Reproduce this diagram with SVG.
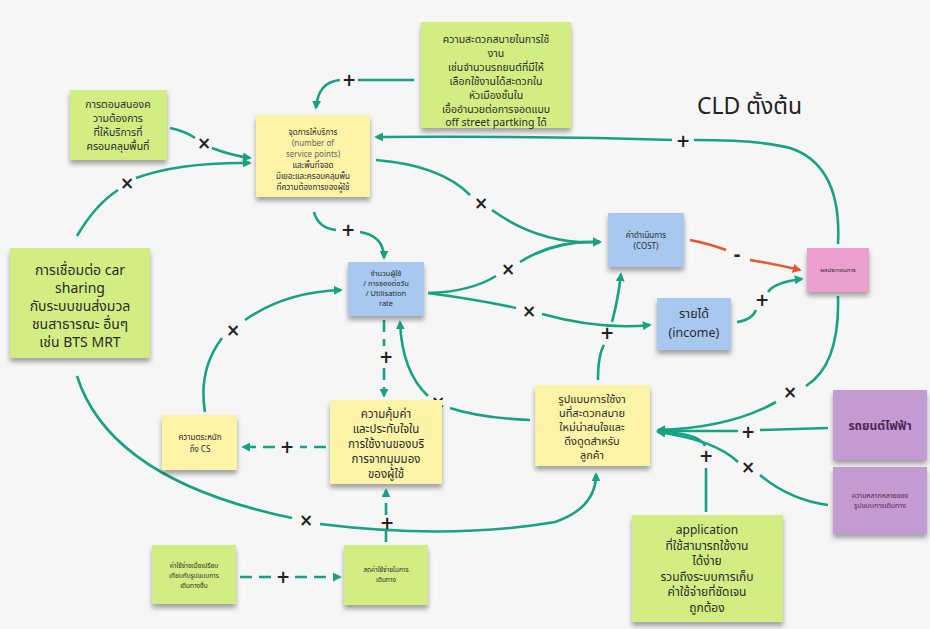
<svg xmlns="http://www.w3.org/2000/svg" width="930" height="629" viewBox="0 0 930 629">
  <defs>
    <marker id="arrow" viewBox="0 0 10 10" refX="8" refY="5" markerWidth="9" markerHeight="9" markerUnits="userSpaceOnUse" orient="auto">
      <path d="M0,0 L10,5 L0,10 z" fill="#17a283"/>
    </marker>
    <marker id="arrowRed" viewBox="0 0 10 10" refX="8" refY="5" markerWidth="9" markerHeight="9" markerUnits="userSpaceOnUse" orient="auto">
      <path d="M0,0 L10,5 L0,10 z" fill="#e8552d"/>
    </marker>
    <filter id="shadow" x="-10%" y="-10%" width="120%" height="130%">
      <feDropShadow dx="0" dy="4" stdDeviation="2.5" flood-color="#000" flood-opacity="0.35"/>
    </filter>
  </defs>
  <style>
    .note { filter: url(#shadow); }
    .green { fill: #d2ee83; }
    .yellow { fill: #fbf4a6; }
    .blue { fill: #a8c8f0; }
    .pink { fill: #ea9fcc; }
    .purple { fill: #c49ad2; }
    text { font-family: "Noto Sans", "Noto Sans Thai", "DejaVu Sans", "Noto Sans CJK SC", sans-serif; fill: #2a2a2a; text-anchor: middle; }
    .link { fill: none; stroke: #17a283; stroke-width: 2.6; marker-end: url(#arrow); }
    .dash { stroke-dasharray: 12 7; }
    .sign { font-family: "DejaVu Sans", sans-serif; font-size: 17px; font-weight: bold; fill: #222; }
  </style>

  <rect width="930" height="629" fill="#f6f6f6"/>

  <text x="697" y="114" style="font-size:23px;fill:#222;text-anchor:start">CLD ตั้งต้น</text>

  <!-- connectors -->
  <g id="connectors">
    <path class="link" d="M414,80 L358,80 M340,80 Q318,82 316,108"/>
    <path class="link" d="M170,128 Q185,131 195,138 M212,148 Q230,155 250,158"/>
    <path class="link" d="M77,236 Q95,205 118,190 M136,178 Q180,162 250,163"/>
    <path class="link" d="M314,212 Q318,228 336,230 M360,232 Q384,236 384,258"/>
    <path class="link" d="M376,160 Q440,165 470,195 M492,210 Q540,245 600,242"/>
    <path class="link" d="M428,293 Q470,292 496,276 M520,262 Q555,240 600,242"/>
    <path class="link" d="M428,293 Q480,300 516,308 M542,314 Q600,330 650,325"/>
    <path d="M690,240 Q710,244 726,250 M750,260 Q775,264 800,270" fill="none" stroke="#e8552d" stroke-width="2.6" marker-end="url(#arrowRed)"/>
    <path class="link" d="M737,322 Q752,320 756,310 M768,292 Q775,282 802,279"/>
    <path class="link" d="M838,244 Q842,165 790,148 Q760,140 694,140 M672,140 Q560,136 376,137"/>
    <path class="link" d="M838,296 Q840,365 806,386 M776,402 Q730,428 658,430"/>
    <path class="link" d="M828,428 L760,430 M738,431 L658,431"/>
    <path class="link" d="M828,505 Q790,500 760,475 M738,462 Q715,440 658,432"/>
    <path class="link" d="M706,512 L706,468 M705,446 Q700,433 658,432"/>
    <path class="link" d="M598,380 Q598,355 604,345 M612,322 Q618,300 621,274"/>
    <path class="link" d="M530,420 Q480,418 450,408 M428,396 Q402,372 400,322"/>
    <path class="link dash" d="M384,320 L384,346 M384,368 L384,396"/>
    <path class="link dash" d="M326,447 L300,447 M275,447 L243,447"/>
    <path class="link" d="M205,412 Q198,370 222,338 M245,320 Q285,292 341,290"/>
    <path class="link dash" d="M386,542 L386,530 M386,515 L386,490"/>
    <path class="link dash" d="M240,577 L272,577 M295,577 L340,577"/>
    <path class="link" d="M77,376 Q110,480 292,518 M320,524 Q450,540 555,522 Q596,508 596,474"/>

    <text class="sign" x="349" y="86">+</text>
    <text class="sign" x="204" y="149">×</text>
    <text class="sign" x="127" y="189">×</text>
    <text class="sign" x="348" y="236">+</text>
    <text class="sign" x="481" y="209">×</text>
    <text class="sign" x="508" y="275">×</text>
    <text class="sign" x="529" y="317">×</text>
    <text class="sign" x="737" y="261">-</text>
    <text class="sign" x="762" y="306">+</text>
    <text class="sign" x="683" y="147">+</text>
    <text class="sign" x="790" y="398">×</text>
    <text class="sign" x="748" y="438">+</text>
    <text class="sign" x="748" y="473">×</text>
    <text class="sign" x="706" y="462">+</text>
    <text class="sign" x="607" y="339">+</text>
    <text class="sign" x="438" y="408">×</text>
    <text class="sign" x="386" y="363">+</text>
    <text class="sign" x="287" y="453">+</text>
    <text class="sign" x="233" y="336">×</text>
    <text class="sign" x="387" y="529">+</text>
    <text class="sign" x="283" y="583">+</text>
    <text class="sign" x="306" y="526">×</text>
  </g>

  <!-- nodes -->
  <g id="comfort">
    <rect class="note green" x="421" y="22" width="150" height="106"/>
    <text style="font-size:10.5px" x="496" y="43">ความสะดวกสบายในการใช้</text>
    <text style="font-size:10.5px" x="496" y="57">งาน</text>
    <text style="font-size:10.5px" x="496" y="71">เช่นจำนวนรถยนต์ที่มีให้</text>
    <text style="font-size:10.5px" x="496" y="85">เลือกใช้งานได้สะดวกใน</text>
    <text style="font-size:10.5px" x="496" y="99">หัวเมืองชั้นใน</text>
    <text style="font-size:10.5px" x="496" y="113">เอื้ออำนวยต่อการจอดแบบ</text>
    <text style="font-size:10.5px" x="496" y="126">off street partking ได้</text>
  </g>

  <g id="demand">
    <rect class="note green" x="70" y="90" width="97" height="70"/>
    <text style="font-size:10.5px" x="118" y="108">การตอบสนองค</text>
    <text style="font-size:10.5px" x="118" y="122">วามต้องการ</text>
    <text style="font-size:10.5px" x="118" y="136">ที่ให้บริการที่</text>
    <text style="font-size:10.5px" x="118" y="150">ครอบคลุมพื้นที่</text>
  </g>

  <g id="service-points">
    <rect class="note yellow" x="256" y="115" width="114" height="82"/>
    <text style="font-size:8px" x="313" y="135">จุดการให้บริการ</text>
    <text style="font-size:8px;fill:#666" x="313" y="146">(number of</text>
    <text style="font-size:8px;fill:#666" x="313" y="157">service points)</text>
    <text style="font-size:8px" x="313" y="168">และพื้นที่จอด</text>
    <text style="font-size:8px" x="313" y="179">มีเยอะและครอบคลุมพื้น</text>
    <text style="font-size:8px" x="313" y="190">ที่ความต้องการของผู้ใช้</text>
  </g>

  <g id="users">
    <rect class="note blue" x="348" y="262" width="76" height="54"/>
    <text style="font-size:7.5px" x="386" y="276">จำนวนผู้ใช้</text>
    <text style="font-size:7.5px" x="386" y="286">/ การจองต่อวัน</text>
    <text style="font-size:7.5px" x="386" y="296">/ Utilisation</text>
    <text style="font-size:7.5px" x="386" y="306">rate</text>
  </g>

  <g id="cost">
    <rect class="note blue" x="608" y="213" width="76" height="54"/>
    <text style="font-size:8px" x="646" y="238">ค่าดำเนินการ</text>
    <text style="font-size:8px" x="646" y="249">(COST)</text>
  </g>

  <g id="income">
    <rect class="note blue" x="657" y="298" width="74" height="52"/>
    <text style="font-size:12.5px" x="694" y="318">รายได้</text>
    <text style="font-size:12.5px" x="694" y="337">(income)</text>
  </g>

  <g id="performance">
    <rect class="note pink" x="807" y="248" width="62" height="44"/>
    <text style="font-size:6px" x="838" y="272">ผลประกอบการ</text>
  </g>

  <g id="ev">
    <rect class="note purple" x="833" y="390" width="94" height="70"/>
    <text style="font-size:12px;font-weight:bold;fill:#4a2a50" x="880" y="430">รถยนต์ไฟฟ้า</text>
  </g>

  <g id="travel-modes">
    <rect class="note purple" x="833" y="467" width="94" height="67"/>
    <text style="font-size:7px;fill:#4a2a50" x="880" y="498">ความหลากหลายของ</text>
    <text style="font-size:7px;fill:#4a2a50" x="880" y="508">รูปแบบการเดินทาง</text>
  </g>

  <g id="mass-transit">
    <rect class="note green" x="10" y="248" width="140" height="110"/>
    <text style="font-size:14px" x="80" y="275">การเชื่อมต่อ car</text>
    <text style="font-size:14px" x="80" y="293">sharing</text>
    <text style="font-size:14px" x="80" y="311">กับระบบขนส่งมวล</text>
    <text style="font-size:14px" x="80" y="329">ชนสาธารณะ อื่นๆ</text>
    <text style="font-size:14px" x="80" y="347">เช่น BTS MRT</text>
  </g>

  <g id="value">
    <rect class="note yellow" x="330" y="400" width="112" height="84"/>
    <text style="font-size:11.5px" x="386" y="418">ความคุ้มค่า</text>
    <text style="font-size:11.5px" x="386" y="433">และประทับใจใน</text>
    <text style="font-size:11.5px" x="386" y="448">การใช้งานของบริ</text>
    <text style="font-size:11.5px" x="386" y="463">การจากมุมมอง</text>
    <text style="font-size:11.5px" x="386" y="478">ของผู้ใช้</text>
  </g>

  <g id="usage-pattern">
    <rect class="note yellow" x="535" y="385" width="115" height="81"/>
    <text style="font-size:11px" x="592" y="403">รูปแบบการใช้งา</text>
    <text style="font-size:11px" x="592" y="417">นที่สะดวกสบาย</text>
    <text style="font-size:11px" x="592" y="431">ใหม่น่าสนใจและ</text>
    <text style="font-size:11px" x="592" y="445">ดึงดูดสำหรับ</text>
    <text style="font-size:11px" x="592" y="459">ลูกค้า</text>
  </g>

  <g id="awareness">
    <rect class="note yellow" x="162" y="415" width="75" height="55"/>
    <text style="font-size:8px" x="200" y="440">ความตระหนัก</text>
    <text style="font-size:8px" x="200" y="452">ถึง CS</text>
  </g>

  <g id="cost-compare">
    <rect class="note green" x="152" y="545" width="84" height="59"/>
    <text style="font-size:6.5px" x="194" y="568">ค่าใช้จ่ายเมื่อเปรียบ</text>
    <text style="font-size:6.5px" x="194" y="578">เทียบกับรูปแบบการ</text>
    <text style="font-size:6.5px" x="194" y="588">เดินทางอื่น</text>
  </g>

  <g id="lower-cost">
    <rect class="note green" x="344" y="545" width="84" height="60"/>
    <text style="font-size:6.5px" x="386" y="572">ลดค่าใช้จ่ายในการ</text>
    <text style="font-size:6.5px" x="386" y="582">เดินทาง</text>
  </g>

  <g id="application">
    <rect class="note green" x="632" y="515" width="151" height="107"/>
    <text style="font-size:12px" x="707" y="534">application</text>
    <text style="font-size:12px" x="707" y="549.5">ที่ใช้สามารถใช้งาน</text>
    <text style="font-size:12px" x="707" y="565">ได้ง่าย</text>
    <text style="font-size:12px" x="707" y="580.5">รวมถึงระบบการเก็บ</text>
    <text style="font-size:12px" x="707" y="596">ค่าใช้จ่ายที่ชัดเจน</text>
    <text style="font-size:12px" x="707" y="611.5">ถูกต้อง</text>
  </g>
</svg>
